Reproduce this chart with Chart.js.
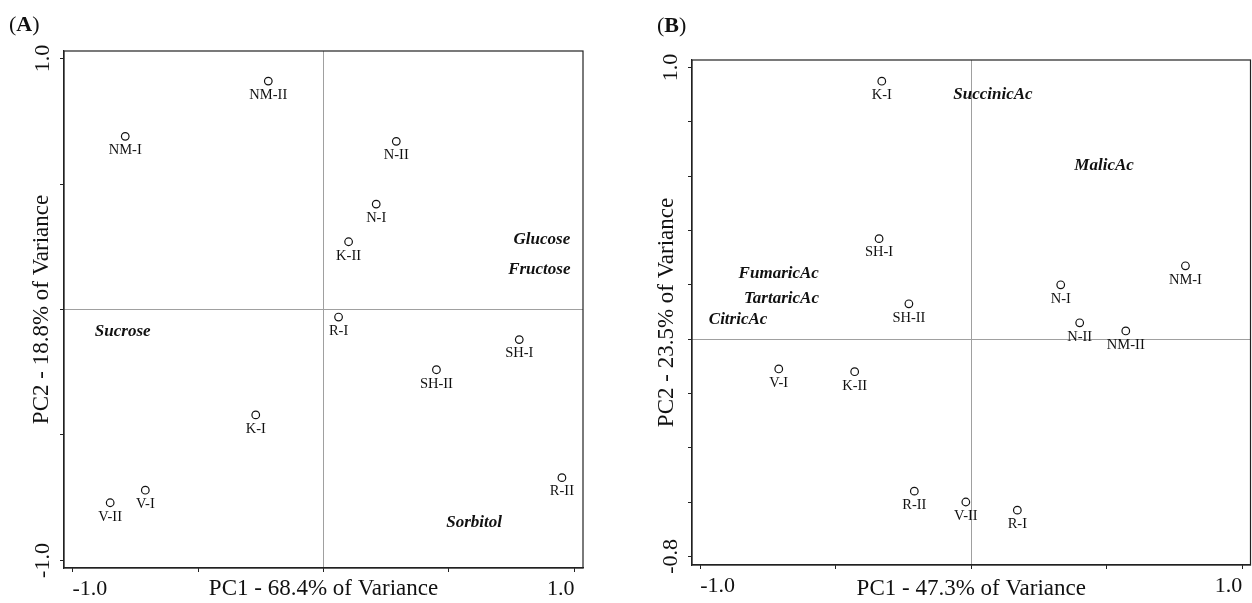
<!DOCTYPE html>
<html lang="en">
<head>
  <meta charset="UTF-8">
  <title>PCA score plots</title>
  <script src="https://cdn.jsdelivr.net/npm/chart.js@4.4.0/dist/chart.umd.min.js"></script>
  <style>
    body {
      margin: 0;
      background: #fff;
      font-family: "Liberation Serif", "Times New Roman", serif;
      color: #111;
    }
    #wrap { position: relative; width: 1252px; height: 603px; overflow: hidden; }
    .panel { position: absolute; top: 0; height: 603px; }
    #boxA { left: 0; width: 620px; }
    #boxB { left: 630px; width: 622px; }
    .tag { position: absolute; font-size: 22px; line-height: 26px; }
  </style>
</head>
<body>
  <div id="wrap">
    <div class="panel" id="boxA"><canvas id="chartA" width="620" height="603"></canvas></div>
    <div class="panel" id="boxB"><canvas id="chartB" width="622" height="603"></canvas></div>
    <div class="tag" style="left:9px; top:11px">(<b>A</b>)</div>
    <div class="tag" style="left:657px; top:12px">(<b>B</b>)</div>
  </div>

  <script>
    // (A) sugars
    const samplesA = ['NM-II', 'NM-I', 'N-II', 'N-I', 'K-II', 'R-I', 'SH-I', 'SH-II', 'K-I', 'R-II', 'V-I', 'V-II'];
    const pc1A = [-0.22, -0.79, 0.29, 0.21, 0.10, 0.06, 0.78, 0.45, -0.27, 0.95, -0.71, -0.85];
    const pc2A = [0.91, 0.69, 0.67, 0.42, 0.27, -0.03, -0.12, -0.24, -0.42, -0.67, -0.72, -0.77];
    const varsA = ['Glucose', 'Fructose', 'Sucrose', 'Sorbitol'];
    const varPc1A = [0.87, 0.86, -0.80, 0.60];
    const varPc2A = [0.28, 0.16, -0.09, -0.85];
    const ticksXA = [-1, -0.5, 0, 0.5, 1];
    const ticksYA = [-1, -0.5, 0, 0.5, 1];

    // (B) organic acids
    const samplesB = ['K-I', 'SH-I', 'NM-I', 'N-I', 'SH-II', 'N-II', 'NM-II', 'V-I', 'K-II', 'R-II', 'V-II', 'R-I'];
    const pc1B = [-0.33, -0.34, 0.79, 0.33, -0.23, 0.40, 0.57, -0.71, -0.43, -0.21, -0.02, 0.17];
    const pc2B = [0.95, 0.37, 0.27, 0.20, 0.13, 0.06, 0.03, -0.11, -0.12, -0.56, -0.60, -0.63];
    const varsB = ['SuccinicAc', 'MalicAc', 'FumaricAc', 'TartaricAc', 'CitricAc'];
    const varPc1B = [0.08, 0.49, -0.71, -0.70, -0.86];
    const varPc2B = [0.90, 0.64, 0.24, 0.15, 0.07];
    const ticksXB = [-1, -0.5, 0, 0.5, 1];
    const ticksYB = [-0.8, -0.6, -0.4, -0.2, 0, 0.2, 0.4, 0.6, 0.8, 1];

    const SERIF = '"Liberation Serif", "Times New Roman", serif';
    Chart.defaults.font.family = SERIF;
    Chart.defaults.color = '#111';

    // frame, sample names under the circles, variable names in bold italic
    const annotate = {
      id: 'annotate',
      afterDatasetsDraw(chart, args, opts) {
        const { ctx, chartArea: a, scales: { x, y } } = chart;
        ctx.save();
        ctx.strokeStyle = '#222';
        ctx.lineWidth = 1.2;
        ctx.strokeRect(a.left, a.top, a.right - a.left, a.bottom - a.top);
        ctx.fillStyle = '#111';
        ctx.textAlign = 'center';
        ctx.textBaseline = 'middle';
        ctx.font = '14.5px ' + SERIF;
        chart.getDatasetMeta(0).data.forEach((pt, i) => {
          ctx.fillText(opts.samples[i], pt.x, pt.y + 14);
        });
        ctx.font = 'italic bold 17px ' + SERIF;
        opts.vars.forEach((name, i) => {
          ctx.fillText(name, x.getPixelForValue(opts.vx[i]), y.getPixelForValue(opts.vy[i]));
        });
        ctx.restore();
      }
    };

    function axis(tickVals, min, max, title, size, isY, titlePad) {
      const ends = [tickVals[0], tickVals[tickVals.length - 1]];
      return {
        type: 'linear',
        position: isY ? 'left' : 'bottom',
        min: min,
        max: max,
        afterBuildTicks: s => { s.ticks = tickVals.map(v => ({ value: v })); },
        afterFit: s => {
          // fixed axis band, and no extra room reserved for the end labels
          if (isY) s.width = size; else s.height = size;
          s.paddingLeft = s.paddingRight = s.paddingTop = s.paddingBottom = 0;
        },
        border: { display: true, color: '#222', width: 1.2 },
        grid: {
          color: c => (c.tick && c.tick.value === 0 ? '#a0a0a0' : 'rgba(0,0,0,0)'),
          lineWidth: 1,
          tickColor: '#222',
          tickLength: 4
        },
        ticks: {
          autoSkip: false,
          font: { size: 22 },
          color: '#111',
          padding: isY ? -1 : 17,
          align: isY ? 'center' : 'inner',
          crossAlign: 'center',
          minRotation: isY ? 90 : 0,
          maxRotation: isY ? 90 : 0,
          callback: v => (ends.includes(v) ? v.toFixed(1) : '')
        },
        title: {
          display: true,
          text: title,
          font: { size: 23 },
          color: '#111',
          padding: titlePad
        }
      };
    }

    function makePlot(id, cfg) {
      return new Chart(document.getElementById(id), {
        type: 'scatter',
        data: {
          datasets: [{
            data: cfg.px.map((v, i) => ({ x: v, y: cfg.py[i] })),
            pointRadius: 3.8,
            pointHoverRadius: 3.8,
            pointBorderWidth: 1.2,
            pointBorderColor: '#111',
            pointBackgroundColor: 'rgba(255,255,255,0)',
            clip: false
          }]
        },
        options: {
          responsive: false,
          animation: false,
          layout: { autoPadding: false, padding: cfg.padding },
          plugins: {
            legend: { display: false },
            tooltip: { enabled: false },
            annotate: { samples: cfg.samples, vars: cfg.vars, vx: cfg.vx, vy: cfg.vy }
          },
          scales: {
            x: axis(cfg.tx, cfg.xr[0], cfg.xr[1], cfg.xTitle, cfg.xh, false, { top: 0, bottom: 0 }),
            y: axis(cfg.ty, cfg.yr[0], cfg.yr[1], cfg.yTitle, cfg.yw, true, { top: cfg.yTitlePad, bottom: 0 })
          }
        },
        plugins: [annotate]
      });
    }

    makePlot('chartA', {
      samples: samplesA, px: pc1A, py: pc2A,
      vars: varsA, vx: varPc1A, vy: varPc2A,
      tx: ticksXA, ty: ticksYA,
      xr: [-1.034, 1.034], yr: [-1.03, 1.03],
      xTitle: 'PC1 - 68.4% of Variance', yTitle: 'PC2 - 18.8% of Variance',
      padding: { left: 0, top: 51, right: 37, bottom: 0 },
      yw: 64, xh: 35, yTitlePad: 28
    });

    makePlot('chartB', {
      samples: samplesB, px: pc1B, py: pc2B,
      vars: varsB, vx: varPc1B, vy: varPc2B,
      tx: ticksXB, ty: ticksYB,
      xr: [-1.03, 1.03], yr: [-0.832, 1.028],
      xTitle: 'PC1 - 47.3% of Variance', yTitle: 'PC2 - 23.5% of Variance',
      padding: { left: 0, top: 60, right: 1.5, bottom: 0 },
      yw: 62, xh: 38, yTitlePad: 23
    });
  </script>
</body>
</html>
